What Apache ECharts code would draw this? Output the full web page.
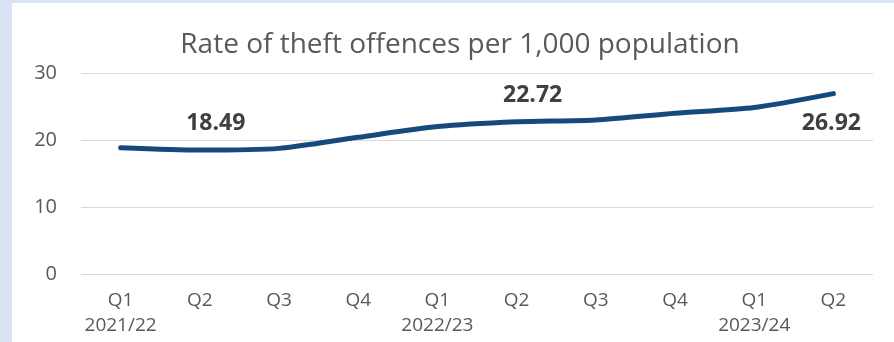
<!DOCTYPE html>
<html>
<head>
<meta charset="utf-8">
<script src="https://cdn.jsdelivr.net/npm/echarts@6/dist/echarts.min.js"></script>
<style>
html,body{margin:0;padding:0;background:#dae3f3;}
#c{width:894px;height:342px;}
</style>
</head>
<body>
<div id="c"></div>
<script>
const quarters = ['Q1','Q2','Q3','Q4','Q1','Q2','Q3','Q4','Q1','Q2'];
const years = ['2021/22','','','','2022/23','','','','2023/24',''];
const rates = [18.85, 18.49, 18.75, 20.4, 22.0, 22.72, 23.0, 24.0, 24.85, 26.92];
const labelledAbove = [1, 5];
const labelledBelow = [9];
const yTicks = [0, 10, 20, 30];

const chart = echarts.init(document.getElementById('c'), null, {renderer:'canvas'});
const font = '"Open Sans", sans-serif';
const data = rates.map((v, i) => {
  if (labelledAbove.includes(i)) {
    return {value: v, label: {show: true, position: 'top', distance: 14, offset: [16, 0]}};
  }
  if (labelledBelow.includes(i)) {
    return {value: v, label: {show: true, position: 'bottom', distance: 17, offset: [-2, 0]}};
  }
  return v;
});
chart.setOption({
  backgroundColor: '#dae3f3',
  animation: false,
  graphic: [{type:'rect', shape:{x:12, y:3, width:882, height:339}, style:{fill:'#ffffff'}, z:-10}],
  title: {
    text: 'Rate of theft offences per 1,000 population',
    left: 455, top: 26, textAlign: 'center',
    textStyle: {fontFamily: font, fontSize: 28, fontWeight: 'normal', color: '#595959'}
  },
  grid: {left: 81, right: 21, top: 73, bottom: 68},
  xAxis: {
    type: 'category',
    data: quarters,
    boundaryGap: true,
    axisLine: {show: false},
    axisTick: {show: false},
    axisLabel: {
      interval: 0,
      margin: 14,
      fontFamily: font, fontSize: 19, color: '#595959', lineHeight: 25,
      formatter: (v, i) => years[i] ? v + '\n' + years[i] : v
    }
  },
  yAxis: {
    type: 'value',
    min: yTicks[0], max: yTicks[yTicks.length-1], interval: 10,
    axisLine: {show: false},
    axisTick: {show: false},
    splitLine: {lineStyle: {color: '#d9d9d9', width: 1}},
    axisLabel: {margin: 24, fontFamily: font, fontSize: 20, color: '#595959'}
  },
  series: [{
    type: 'line',
    data: data,
    smooth: 0.25,
    symbol: 'circle',
    symbolSize: 2,
    showSymbol: true,
    itemStyle: {color: '#174a7c'},
    lineStyle: {color: '#174a7c', width: 5, cap: 'round'},
    label: {show: false, fontFamily: font, fontSize: 23, fontWeight: 'bold', color: '#404040'}
  }]
});
</script>
</body>
</html>
